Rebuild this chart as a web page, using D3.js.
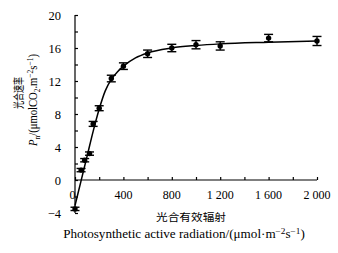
<!DOCTYPE html>
<html lang="zh">
<head>
<meta charset="UTF-8">
<title>光合速率</title>
<script src="https://d3js.org/d3.v7.min.js"></script>
<style>
  body { margin: 0; background: #fff; }
  svg text { font-family: "Liberation Serif", "Times New Roman", serif; fill: #000; }
  .cjk { font-family: "Noto Sans CJK SC", sans-serif; }
</style>
</head>
<body>
<div id="chart"></div>
<script>
// measured light response (PAR, Pn, error)
var par = [0, 50, 80, 120, 150, 200, 300, 400, 600, 800, 1000, 1200, 1600, 2000];
var pn = [-3.5, 1.2, 2.4, 3.2, 6.8, 8.7, 12.3, 13.8, 15.3, 16.0, 16.4, 16.25, 17.2, 16.85];
var err = [0.2, 0.2, 0.2, 0.2, 0.3, 0.3, 0.4, 0.4, 0.45, 0.45, 0.5, 0.5, 0.45, 0.55];

// fitted curve
var fitPar = [0, 50, 100, 150, 200, 250, 300, 350, 400, 500, 600, 800, 1000, 1200, 1600, 2000];
var fitPn = [-3.1, -0.1, 2.9, 5.9, 8.6, 10.8, 12.2, 13.1, 13.8, 14.8, 15.4, 16.0, 16.3, 16.5, 16.7, 16.85];

var xTicks = [0, 400, 800, 1200, 1600, 2000];
var xTickLabels = ["0", "400", "800", "1 200", "1 600", "2 000"];
var yTicks = [-4, 0, 4, 8, 12, 16, 20];
var yTickLabels = ["\u22124", "0", "4", "8", "12", "16", "20"];

var w = 338, h = 253;
var svg = d3.select("#chart").append("svg")
    .attr("width", w)
    .attr("height", h);

var x = d3.scaleLinear().domain([0, 2000]).range([75, 317]);
var y = d3.scaleLinear().domain([-4, 20]).range([213, 15]);

// stretch a text so it fills a given length (along its own direction)
function fitLength(sel, cx, cy, len, rot) {
    var bw = sel.node().getComputedTextLength();
    var s = len / bw;
    sel.attr("transform", "translate(" + cx + "," + cy + ")" + (rot ? " rotate(-90)" : "") + " scale(" + s + ",1)");
}

// y axis (ticks inward)
var yAxis = d3.axisRight(y)
    .tickValues(d3.range(-4, 21, 2))
    .tickSize(3)
    .tickFormat("");
var gy = svg.append("g").attr("transform", "translate(" + x(0) + ",0)").call(yAxis);
gy.select(".domain").attr("d", "M0," + y(-4) + "V" + y(20)).attr("stroke-width", 1.2);
gy.selectAll(".tick line").attr("stroke-width", 1.2);

svg.selectAll(".ylab")
    .data(yTicks)
    .enter()
    .append("text")
    .attr("class", "ylab")
    .attr("x", 61)
    .attr("y", function(d) { return y(d) + 4.5; })
    .attr("text-anchor", "end")
    .attr("font-size", "12.5px")
    .text(function(d, i) { return yTickLabels[i]; });

// x axis along y=0 (ticks inward)
var xAxis = d3.axisTop(x)
    .tickValues(d3.range(0, 2001, 200))
    .tickSize(3)
    .tickFormat("");
var gx = svg.append("g").attr("transform", "translate(0," + y(0) + ")").call(xAxis);
gx.select(".domain").attr("d", "M" + x(0) + ",0H" + x(2000)).attr("stroke-width", 1.2);
gx.selectAll(".tick line").attr("stroke-width", 1.2);

svg.selectAll(".xlab")
    .data(xTicks)
    .enter()
    .append("text")
    .attr("class", "xlab")
    .attr("x", function(d) { return d === 0 ? x(d) - 2.5 : x(d); })
    .attr("y", y(0) + 19)
    .attr("text-anchor", "middle")
    .attr("font-size", "12px")
    .text(function(d, i) { return xTickLabels[i]; });

// fitted curve
var line = d3.line()
    .x(function(d, i) { return x(fitPar[i]); })
    .y(function(d) { return y(d); })
    .curve(d3.curveMonotoneX);
svg.append("path")
    .datum(fitPn)
    .attr("d", line)
    .attr("fill", "none")
    .attr("stroke", "#000")
    .attr("stroke-width", 1.5);

// error bars
var bars = svg.selectAll(".eb")
    .data(pn)
    .enter()
    .append("g")
    .attr("class", "eb")
    .attr("stroke", "#000")
    .attr("stroke-width", 1.4);
bars.append("line")
    .attr("x1", function(d, i) { return x(par[i]); })
    .attr("x2", function(d, i) { return x(par[i]); })
    .attr("y1", function(d, i) { return y(d + err[i]); })
    .attr("y2", function(d, i) { return y(d - err[i]); });
bars.append("line")
    .attr("x1", function(d, i) { return x(par[i]) - 4.5; })
    .attr("x2", function(d, i) { return x(par[i]) + 4.5; })
    .attr("y1", function(d, i) { return y(d + err[i]); })
    .attr("y2", function(d, i) { return y(d + err[i]); });
bars.append("line")
    .attr("x1", function(d, i) { return x(par[i]) - 4.5; })
    .attr("x2", function(d, i) { return x(par[i]) + 4.5; })
    .attr("y1", function(d, i) { return y(d - err[i]); })
    .attr("y2", function(d, i) { return y(d - err[i]); });

svg.selectAll(".pt")
    .data(pn)
    .enter()
    .append("circle")
    .attr("class", "pt")
    .attr("cx", function(d, i) { return x(par[i]); })
    .attr("cy", function(d) { return y(d); })
    .attr("r", 2.7)
    .attr("fill", "#000");

// axis titles
var xc = svg.append("text")
    .attr("class", "cjk")
    .attr("text-anchor", "middle")
    .attr("font-size", "10.5px")
    .text("光合有效辐射");
fitLength(xc, 191, 221, 70, false);

var xt = svg.append("text")
    .attr("text-anchor", "middle")
    .attr("font-size", "12px");
xt.append("tspan").text("Photosynthetic active radiation/(\u03bcmol\u00b7m");
xt.append("tspan").attr("dy", -4.5).attr("font-size", "8.5px").text("\u22122");
xt.append("tspan").attr("dy", 4.5).text("s");
xt.append("tspan").attr("dy", -4.5).attr("font-size", "8.5px").text("\u22121");
xt.append("tspan").attr("dy", 4.5).text(")");
fitLength(xt, 184, 238, 242, false);

var yc = svg.append("text")
    .attr("class", "cjk")
    .attr("text-anchor", "middle")
    .attr("font-size", "11.5px")
    .text("光合速率");
fitLength(yc, 23, 93, 32, true);

var yt = svg.append("text")
    .attr("text-anchor", "middle")
    .attr("font-size", "12px");
yt.append("tspan").attr("font-style", "italic").text("P");
yt.append("tspan").attr("dy", 3).attr("font-size", "8.5px").text("n");
yt.append("tspan").attr("dy", -3).text("/(\u03bcmolCO");
yt.append("tspan").attr("dy", 3).attr("font-size", "8.5px").text("2");
yt.append("tspan").attr("dy", -3).text(".m");
yt.append("tspan").attr("dy", -4.5).attr("font-size", "8.5px").text("\u22122");
yt.append("tspan").attr("dy", 4.5).text("s");
yt.append("tspan").attr("dy", -4.5).attr("font-size", "8.5px").text("\u22121");
yt.append("tspan").attr("dy", 4.5).text(")");
fitLength(yt, 37, 100, 92, true);
</script>
</body>
</html>
